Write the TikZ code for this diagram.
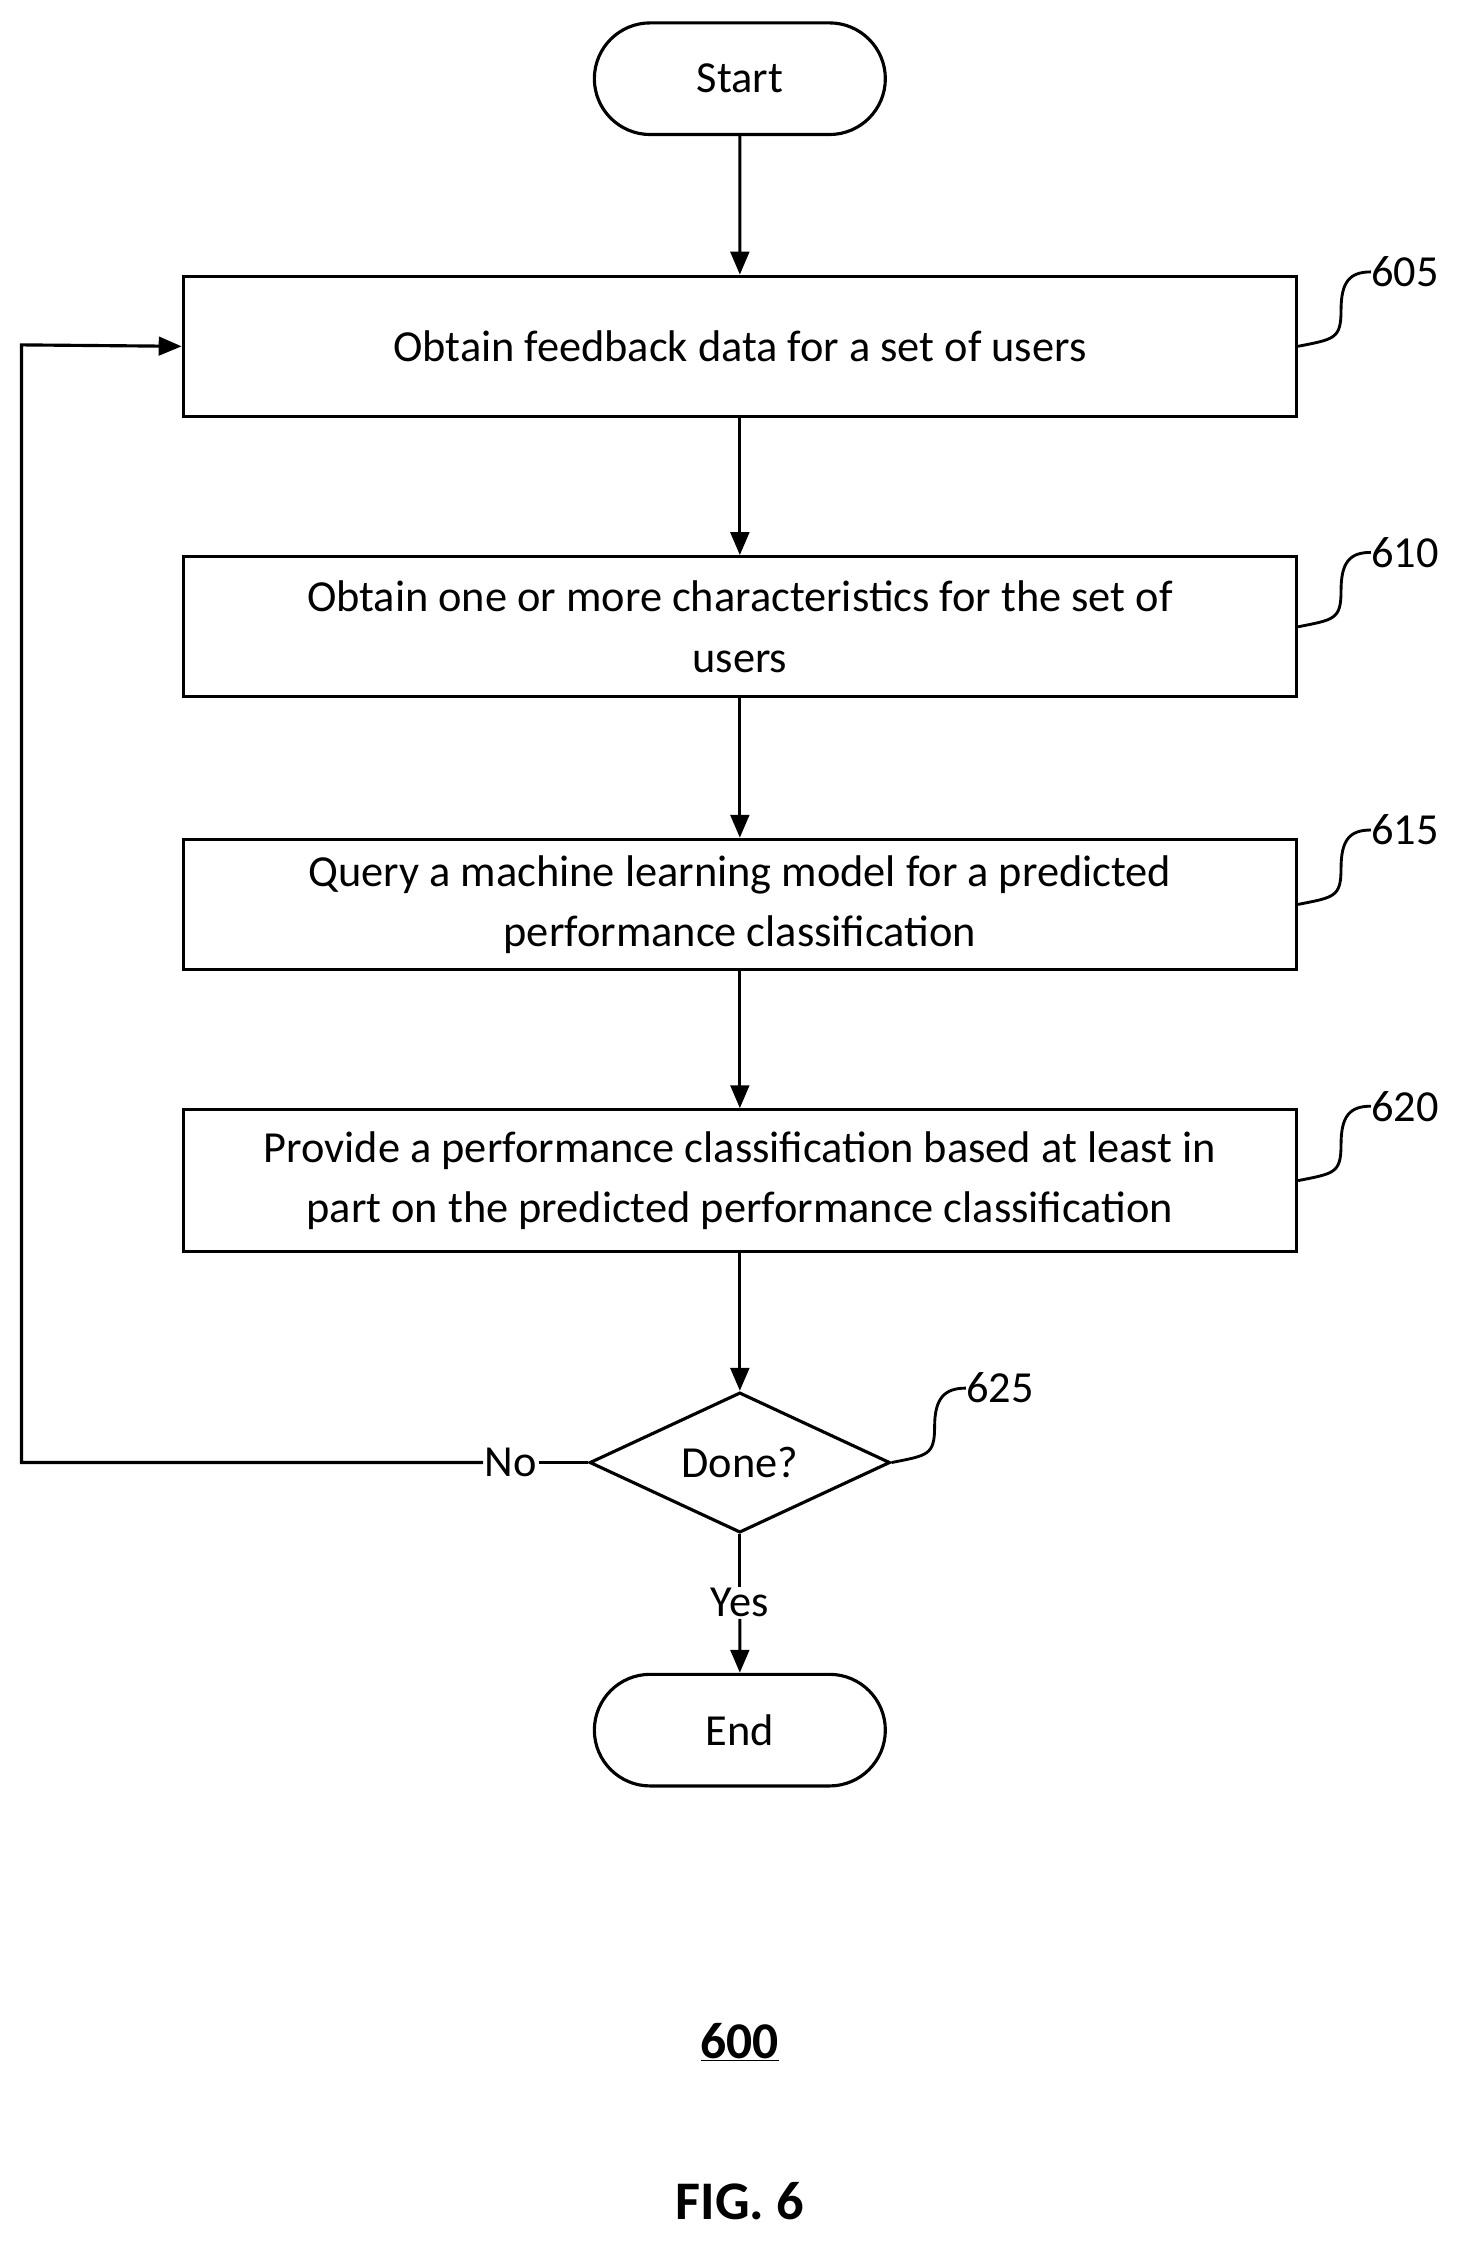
\documentclass[tikz,border=0pt]{standalone}
\usepackage{fontspec}
\setmainfont{Carlito}
\usetikzlibrary{shapes.geometric,shapes.misc,arrows.meta}
\begin{document}
\begin{tikzpicture}[x=1pt,y=-1pt,
  every node/.style={font=\fontsize{31}{42}\selectfont},
  box/.style={draw,line width=2.2pt,minimum width=778pt,align=center,inner sep=0pt},
  term/.style={draw,line width=2.2pt,rounded rectangle,minimum width=210pt,minimum height=78pt},
  arr/.style={line width=2.2pt,-{Triangle[length=16pt,width=13pt]}},
  ln/.style={line width=2.2pt},
  sq/.style={line width=2pt}]
\useasboundingbox (0,0) rectangle (1024,1566);
\node[term] (start) at (517,55) {Start};
\node[box,minimum height=98pt] (b605) at (517,242) {Obtain feedback data for a set of users};
\node[box,minimum height=98pt] (b610) at (517,438) {Obtain one or more characteristics for the set of\\users};
\node[box,minimum height=91pt] (b615) at (517,632) {Query a machine learning model for a predicted\\performance classification};
\node[box,minimum height=99pt] (b620) at (517,825) {Provide a performance classification based at least in\\part on the predicted performance classification};
\node[draw,line width=2.2pt,diamond,aspect=2.14,minimum width=210pt,minimum height=98pt,inner sep=0pt] (d) at (517,1022) {Done?};
\node[term] (end) at (517,1209) {End};
\draw[arr] (start) -- (b605);
\draw[arr] (b605) -- (b610);
\draw[arr] (b610) -- (b615);
\draw[arr] (b615) -- (b620);
\draw[arr] (b620) -- (d);
\node[fill=white,inner sep=1pt] (yes) at (517,1120) {Yes};
\draw[ln] (d.south) -- (yes.north);
\draw[arr] (yes.south) -- (end);
\node[fill=white,inner sep=1pt] (no) at (357,1022) {No};
\coordinate (c1) at (15,1022);
\coordinate (c2) at (15,241);
\draw[ln] (d.west) -- (no.east);
\draw[arr] (no.west) -- (c1) -- (c2) -- (b605.west);
\node[anchor=west,inner sep=0pt] (l605) at (958,190) {605};
\node[anchor=west,inner sep=0pt] (l610) at (958,386) {610};
\node[anchor=west,inner sep=0pt] (l615) at (958,580) {615};
\node[anchor=west,inner sep=0pt] (l620) at (958,773) {620};
\node[anchor=west,inner sep=0pt] (l625) at (675,970) {625};
\foreach \b/\l in {b605/l605,b610/l610,b615/l615,b620/l620}{
  \draw[sq] (\b.east) .. controls +(25,-5) and +(0,20) .. ++(30,-25) .. controls +(0,-20) and +(-15,0) .. (\l.west);
}
\draw[sq] (d.east) .. controls +(25,-5) and +(0,20) .. ++(30,-25) .. controls +(0,-20) and +(-15,0) .. (l625.west);
\node[font=\fontsize{36}{42}\selectfont\bfseries] (n600) at (517,1427) {\underline{600}};
\node[font=\fontsize{38}{44}\selectfont\bfseries] (fig) at (517,1538) {FIG. 6};
\end{tikzpicture}
\end{document}
